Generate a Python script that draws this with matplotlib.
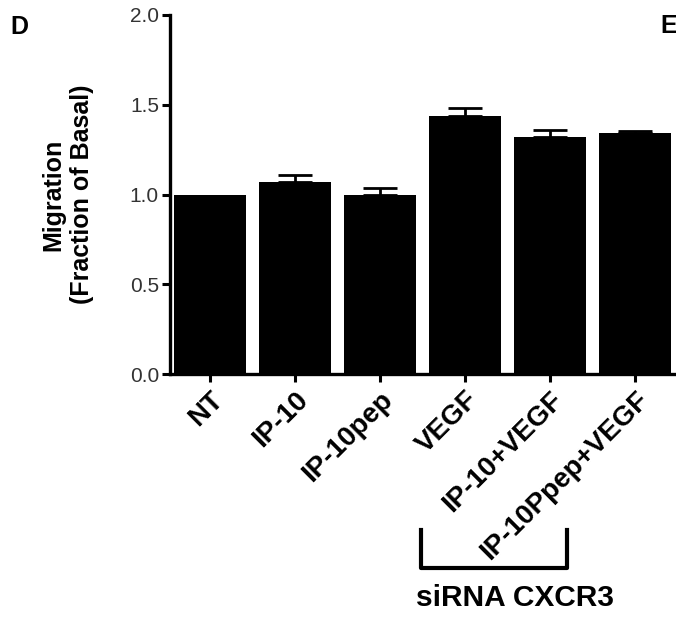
import numpy as np
import matplotlib.pyplot as plt

plt.rcParams['font.family'] = ['Liberation Sans', 'DejaVu Sans']

labels = ["NT", "IP-10", "IP-10pep", "VEGF", "IP-10+VEGF", "IP-10Ppep+VEGF"]
values = [1.00, 1.07, 1.00, 1.44, 1.32, 1.34]
errors = [0.0, 0.04, 0.035, 0.04, 0.04, 0.015]
yticks = [0.0, 0.5, 1.0, 1.5, 2.0]

fig = plt.figure(figsize=(6.76, 6.23), dpi=100)
ax = fig.add_axes([170/676, 1-374/623, 1-170/676, 359/623])

x = np.arange(len(labels))
ax.bar(x, values, width=0.84, color='black')
has_err = np.array(errors) > 0
ax.errorbar(x[has_err], np.array(values)[has_err],
            yerr=[np.zeros(has_err.sum()), np.array(errors)[has_err]], fmt='none',
            ecolor='black', elinewidth=2.0, capsize=12.5, capthick=2.0)

ax.set_xlim(-0.47, 5.48)
ax.set_ylim(0, 2.0)
ax.set_yticks(yticks)
ax.set_yticklabels([f"{t:.1f}" for t in yticks], fontsize=15, color='#333333')
ax.set_xticks(x)
ax.set_xticklabels(labels, rotation=45, ha='right', rotation_mode='anchor',
                   fontsize=20, fontweight='bold')
ax.tick_params(axis='both', direction='out', width=2.2, length=6)
ax.tick_params(axis='x', pad=3)
ax.tick_params(axis='y', pad=2)

for s in ['top', 'right']:
    ax.spines[s].set_visible(False)
for s in ['left', 'bottom']:
    ax.spines[s].set_linewidth(2.4)

ax.set_ylabel("Migration\n(Fraction of Basal)", fontsize=18, fontweight='bold',
              labelpad=26, linespacing=1.2)

# bracket for siRNA group
fig.lines.append(plt.Line2D([421/676, 421/676, 567/676, 567/676],
                            [1-530/623, 1-568/623, 1-568/623, 1-530/623],
                            color='black', lw=3, transform=fig.transFigure))
fig.text(515/676, 1-598/623, "siRNA CXCR3", fontsize=21.5, fontweight='bold',
         ha='center', va='center')

fig.text(10/676, 1-27/623, "D", fontsize=18, fontweight='bold', va='center')
fig.text(660/676, 1-26/623, "E", fontsize=18, fontweight='bold', va='center')

fig.savefig("out.png", dpi=100)
